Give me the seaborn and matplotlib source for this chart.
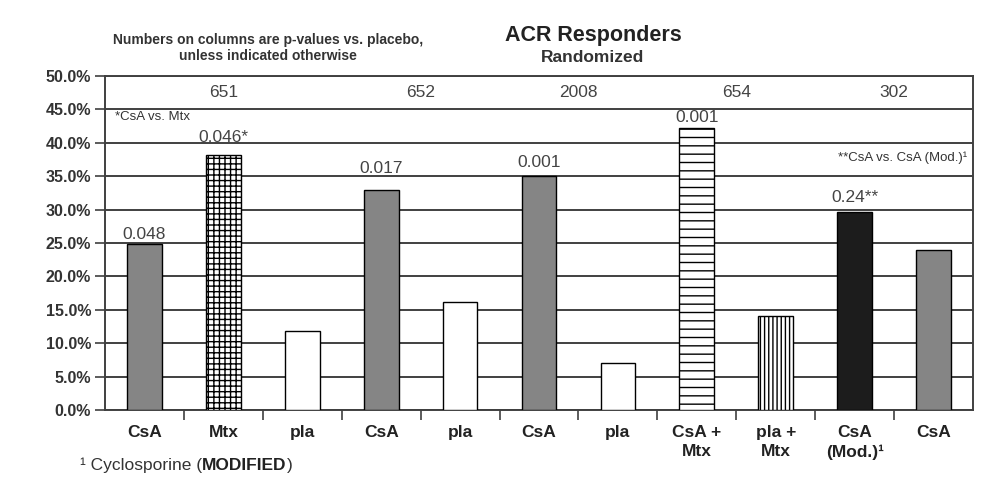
import matplotlib
matplotlib.use("Agg")
import matplotlib.pyplot as plt
import seaborn as sns
import pandas as pd
from matplotlib.ticker import FixedLocator

# ---- data ----
bar_labels = ["CsA", "Mtx", "pla", "CsA", "pla", "CsA", "pla",
              "CsA +\nMtx", "pla +\nMtx", "CsA\n(Mod.)\u00b9", "CsA"]
responders = [24.8, 38.2, 11.9, 33.0, 16.1, 35.1, 7.1, 42.2, 14.0, 29.6, 23.9]
p_values = ["0.048", "0.046*", "", "0.017", "", "0.001", "", "0.001", "", "0.24**", ""]
studies = ["651", "652", "2008", "654", "302"]
study_groups = [[0, 1, 2], [3, 4], [5, 6], [7, 8], [9, 10]]
bar_colors = ["#858585", "white", "white", "#858585", "white", "#858585",
              "white", "white", "white", "#1c1c1c", "#858585"]
bar_hatches = ["", "+++", "", "", "", "", "", "--", "||||", "", ""]
y_ticks = [0, 5, 10, 15, 20, 25, 30, 35, 40, 45, 50]
# gap (in points) between bar top and the p-value label baseline
label_gaps = [3.6, 9.4, 0, 12.2, 0, 6.5, 0, 4.3, 0, 7.2, 0]

sns.set_style("white")
plt.rcParams["font.family"] = ["Liberation Sans", "DejaVu Sans"]
plt.rcParams["hatch.linewidth"] = 1.0

df = pd.DataFrame({"id": [str(i) for i in range(len(responders))],
                   "value": responders})

fig = plt.figure(figsize=(9.89, 4.93), dpi=100)
ax = fig.add_axes([105/989, 1-410/493, (973-105)/989, (410-76)/493])

sns.barplot(data=df, x="id", y="value", hue="id", palette=bar_colors,
            legend=False, width=0.44, edgecolor="black", linewidth=1.0,
            saturation=1, ax=ax, zorder=3)

for patch, h in zip(ax.patches, bar_hatches):
    if h:
        patch.set_hatch(h)

ax.set_xlim(-0.5, len(responders) - 0.5)
ax.set_ylim(0, 50)
ax.set_yticks(y_ticks)
ax.set_yticklabels([f"{t:.1f}%" for t in y_ticks], fontsize=11.5, fontweight="bold",
                   color="#333333")
ax.yaxis.grid(True, color="#404040", linewidth=1.4, zorder=1)
ax.set_axisbelow(True)
ax.tick_params(axis="y", left=True, length=7, width=1.2, color="#404040", pad=3)

ax.set_xticks(range(len(bar_labels)))
ax.set_xticklabels(bar_labels, fontsize=12.5, fontweight="bold", color="#222222",
                   linespacing=1.35)
ax.tick_params(axis="x", which="major", bottom=False, length=0, pad=11)
ax.xaxis.set_minor_locator(FixedLocator([i + 0.5 for i in range(len(responders) - 1)]))
ax.tick_params(axis="x", which="minor", bottom=True, length=7, width=1.2,
               color="#404040", direction="out")
ax.set_xlabel("")
ax.set_ylabel("")

for s in ax.spines.values():
    s.set_visible(True)
    s.set_color("#404040")
    s.set_linewidth(1.4)

# p-value annotations
for i, (v, p, g) in enumerate(zip(responders, p_values, label_gaps)):
    if p:
        ax.annotate(p, xy=(i, v), xytext=(0, g), textcoords="offset points",
                    ha="center", va="baseline", fontsize=12.5,
                    color="#444444", zorder=5)

# study numbers
for s, g in zip(studies, study_groups):
    ax.text(sum(g) / len(g), 47.5, s, ha="center", va="center", fontsize=12.5,
            color="#444444")

ax.text(-0.37, 43.9, "*CsA vs. Mtx", ha="left", va="center", fontsize=9.5,
        color="#333333")
ax.text(10.42, 37.7, "**CsA vs. CsA (Mod.)\u00b9", ha="right", va="center",
        fontsize=9.5, color="#333333")

# titles
fig.text(593/989, 1-35/493, "ACR Responders", ha="center", va="center",
         fontsize=15.5, fontweight="bold", color="#222222")
fig.text(592/989, 1-58/493, "Randomized", ha="center", va="center",
         fontsize=12.5, fontweight="bold", color="#333333")
fig.text(268/989, 1-48/493,
         "Numbers on columns are p-values vs. placebo,\nunless indicated otherwise",
         ha="center", va="center", fontsize=10, fontweight="bold",
         color="#333333", linespacing=1.2)

# footnote
t1 = fig.text(80/989, 1-470/493, "\u00b9 Cyclosporine (", ha="left",
              va="baseline", fontsize=12.5, color="#333333")
t2 = ax.annotate("MODIFIED", xy=(1, 0), xycoords=t1, ha="left", va="bottom",
                 fontsize=12.5, fontweight="bold", color="#222222",
                 annotation_clip=False)
ax.annotate(")", xy=(1, 0), xycoords=t2, ha="left", va="bottom",
            fontsize=12.5, color="#333333", annotation_clip=False)

fig.savefig("out.png", dpi=100, facecolor="white")
